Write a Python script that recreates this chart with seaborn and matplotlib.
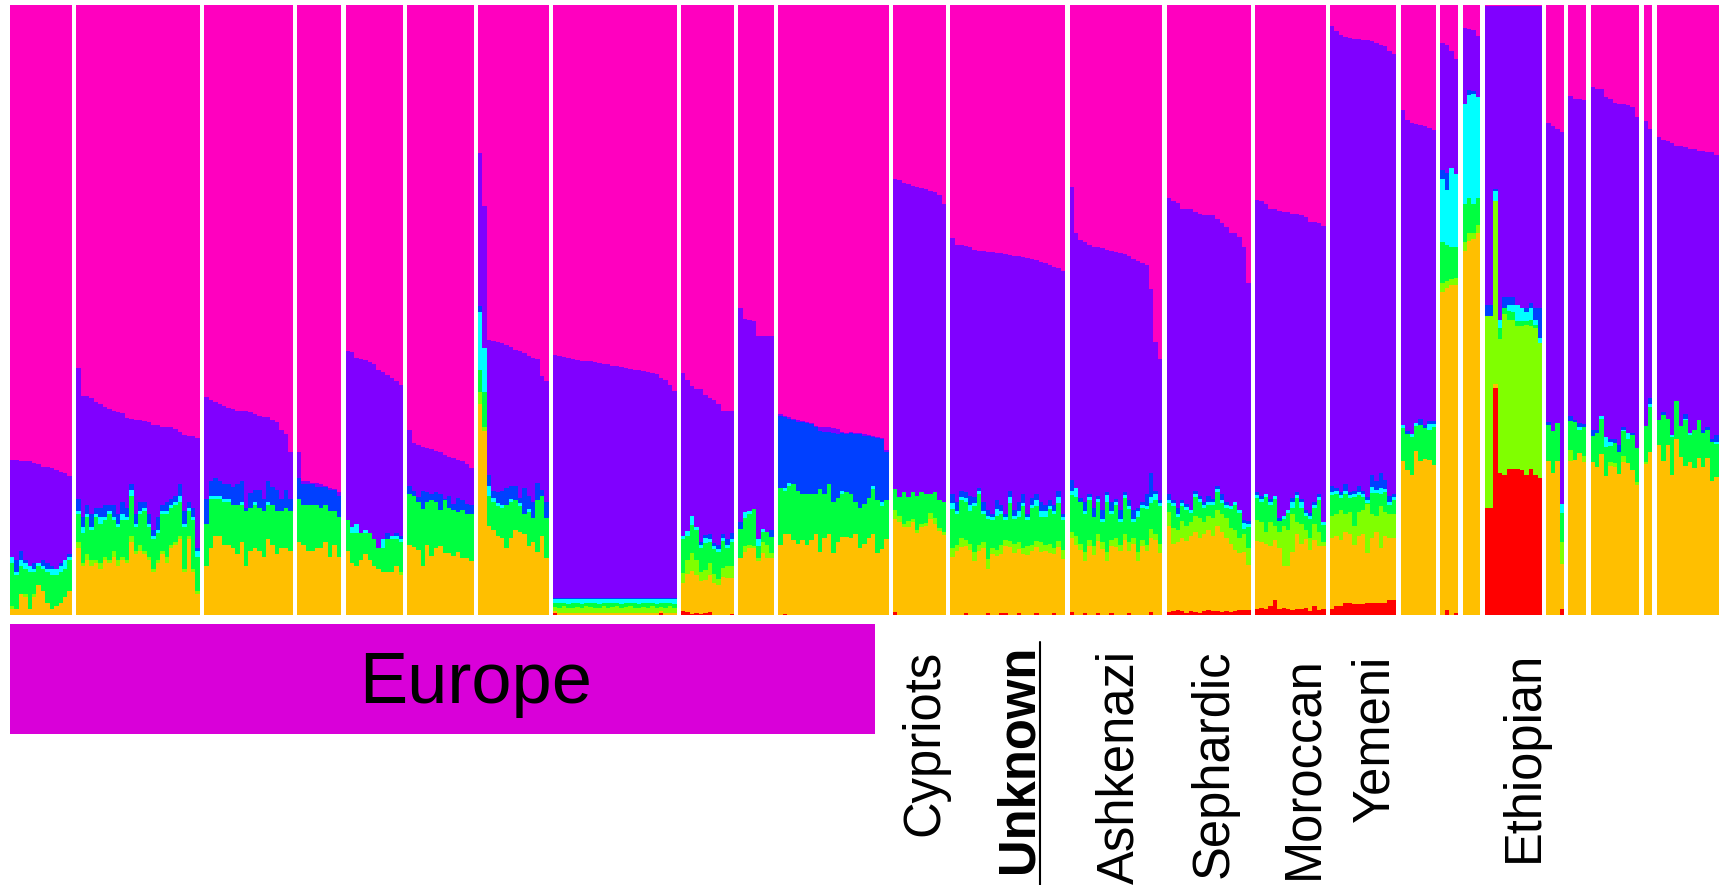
import numpy as np
import pandas as pd
import matplotlib
matplotlib.use("Agg")
import matplotlib.pyplot as plt
import seaborn as sns
from matplotlib.patches import Rectangle
from matplotlib.lines import Line2D

# ---------------------------------------------------------------------------
# Ancestry components (K = 8), listed from top of each bar to bottom
COMPONENTS = ["magenta", "violet", "blue", "cyan", "green", "lime", "orange", "red"]
COLORS = {"magenta": "#FF00BF", "violet": "#8000FF", "blue": "#0040FF", "cyan": "#00FFFF",
          "green": "#00FF40", "lime": "#80FF00", "orange": "#FFBF00", "red": "#FF0000"}

# Population labels shown under the plot
EUROPE_LABEL = "Europe"
POP_LABELS = ["Cypriots", "Unknown", "Ashkenazi", "Sephardic", "Moroccan", "Yemeni", "Ethiopian"]

# Per-individual ancestry proportions (%), one inner list per population block (26 blocks)
MAGENTA = [
    [74.6,74.6,74.7,74.8,74.8,75.0,75.2,75.7,75.8,75.9,76.3,76.5,76.7,77.2],
    [59.5,64.1,64.1,64.5,65.0,65.4,65.9,66.3,66.5,66.7,66.9,67.7,67.9,68.0,68.0,68.2,68.4,68.9,68.9,69.1,69.1,69.2,69.5,70.0,70.5,70.7,70.7,71.0],
    [64.2,64.7,65.1,65.4,65.8,66.1,66.3,66.5,66.5,66.5,66.7,67.1,67.4,67.6,67.6,68.0,68.4,69.6,70.4,73.3],
    [73.3,78.0,78.1,78.3,78.4,78.6,78.8,79.1,79.3,79.8],
    [56.7,56.9,57.8,58.0,58.2,58.5,58.8,59.8,60.2,60.6,61.1,61.6,62.3],
    [69.6,71.8,72.1,72.4,72.6,72.8,73.1,73.3,73.7,74.1,74.3,74.6,74.8,75.2,75.9],
    [24.3,32.9,54.9,55.1,55.3,55.4,55.7,56.1,56.5,56.7,57.0,57.5,57.8,58.0,60.8,61.6],
    [57.3,57.5,57.7,57.9,58.0,58.2,58.3,58.4,58.4,58.5,58.7,58.8,58.9,59.1,59.2,59.3,59.5,59.7,59.8,59.9,60.0,60.1,60.3,60.5,61.1,61.5,62.3,63.2],
    [60.3,61.4,62.4,62.9,63.0,64.0,64.5,64.7,65.4,66.6,66.6,66.6],
    [49.7,51.4,51.6,51.8,54.2,54.3,54.3,54.3],
    [67.1,67.4,67.6,67.9,68.1,68.2,68.4,68.5,69.0,69.1,69.2,69.2,69.3,69.5,70.0,70.2,70.0,70.2,70.2,70.4,70.5,70.7,70.8,71.0,73.0],
    [28.5,28.7,29.1,29.4,29.6,29.8,30.0,30.2,30.5,30.7,31.1,32.7],
    [38.2,39.4,39.4,39.5,39.7,40.1,40.3,40.4,40.5,40.5,40.7,40.7,40.8,41.0,41.1,41.2,41.3,41.4,41.6,41.8,42.1,42.3,42.6,42.9,43.1,43.6],
    [29.8,37.4,38.6,38.9,39.4,39.7,39.7,39.9,40.1,40.4,40.5,40.7,40.9,41.2,41.6,42.0,42.3,42.7,46.5,55.3,58.0],
    [31.6,32.2,32.4,33.4,33.4,33.5,33.9,34.2,34.5,34.5,34.5,35.1,35.8,36.4,37.3,37.4,38.1,39.7,45.5],
    [31.9,32.2,32.6,33.4,33.5,33.7,33.9,34.0,34.2,34.3,34.5,34.8,35.5,35.6,35.8,36.3],
    [3.4,4.3,4.9,5.3,5.4,5.6,5.6,5.7,5.8,5.9,6.2,6.5,6.8,7.6,8.0],
    [17.2,18.9,19.3,19.5,19.6,19.8,20.2,20.5],
    [6.3,6.6,7.6,8.8],
    [3.8,4.0,4.1,5.0],
    [0.2,0.2,0.2,0.2,0.2,0.2,0.2,0.2,0.2,0.2,0.2,0.2,0.2],
    [19.3,19.8,20.4,20.9],
    [14.9,15.4,15.4,15.6],
    [13.5,13.7,13.8,15.1,15.4,16.1,16.3,16.3,16.4,16.8,18.3],
    [19.0,20.5],
    [21.6,22.1,22.3,22.7,23.1,23.1,23.3,23.6,23.6,23.9,23.9,24.1,24.1,24.6],
]
VIOLET = [
    [15.9,16.4,14.8,16.2,17.2,16.5,16.3,15.3,15.7,16.1,16.2,15.0,14.3,12.8],
    [21.5,19.9,17.9,19.0,17.5,17.1,16.1,15.7,15.5,16.8,14.6,14.8,10.6,15.5,13.5,13.3,15.1,17.1,15.1,12.9,12.4,11.8,11.0,8.5,12.5,10.8,11.8,18.0],
    [16.8,13.3,12.4,12.6,12.7,12.4,12.7,12.0,11.5,16.0,13.3,12.4,12.1,13.4,10.4,11.0,11.1,11.4,9.1,7.7],
    [4.2,0.5,0.4,0.2,0.6,0.4,0.2,0.4,0.2,0.7],
    [27.8,28.6,27.2,28.5,27.8,28.0,28.7,29.2,27.3,25.9,25.9,24.9,24.7],
    [9.3,7.8,8.6,7.2,7.3,7.4,6.8,6.8,7.3,6.4,7.5,6.3,6.4,6.6,6.1],
    [25.1,23.3,22.1,24.5,24.6,24.2,23.5,22.8,22.4,24.2,22.2,23.0,23.7,20.3,18.7,19.9],
    [39.9,39.7,39.5,39.3,39.2,39.0,38.9,38.8,38.8,38.7,38.5,38.4,38.3,38.1,38.0,37.9,37.7,37.5,37.4,37.3,37.2,37.1,36.9,36.7,36.1,35.7,34.9,34.0],
    [26.8,24.8,21.4,22.6,25.0,22.9,22.2,23.5,23.2,20.2,20.9,19.9],
    [35.1,31.7,31.3,30.9,33.3,31.6,32.1,31.8],
    [0.2,0.2,0.2,0.2,0.2,0.2,0.2,0.2,0.2,0.8,0.8,0.8,0.8,0.8,0.2,0.2,0.2,0.2,0.2,0.2,0.2,0.2,0.2,0.2,0.2],
    [50.9,52.0,50.8,51.3,50.3,50.7,49.9,50.0,49.6,49.2,50.1,48.7],
    [41.9,42.1,40.2,40.4,40.8,40.6,38.9,41.0,42.3,43.0,40.5,41.3,42.7,38.6,41.7,40.2,38.8,42.1,39.3,38.3,39.3,39.7,38.6,39.1,36.5,39.9],
    [48.0,41.8,42.3,42.5,40.8,42.8,40.8,42.9,39.8,41.1,40.5,42.1,39.0,40.0,41.2,40.5,39.2,37.4,30.2,24.3,23.2],
    [48.6,49.0,50.1,47.8,48.4,49.3,45.7,46.3,47.0,46.0,46.5,43.8,44.4,45.0,44.9,44.1,44.7,44.7,39.1],
    [48.0,48.3,47.6,47.6,47.0,50.4,49.9,48.8,46.7,45.6,46.5,48.0,47.8,45.9,44.4,48.5],
    [75.4,74.9,75.0,73.3,74.5,74.0,73.3,73.9,74.9,71.1,71.8,70.2,71.0,72.9,72.1],
    [51.7,50.9,51.1,49.0,48.2,49.1,48.0,47.7],
    [20.7,21.0,19.1,18.9],
    [12.5,9.9,10.0,10.0],
    [49.0,49.0,30.0,51.5,47.7,47.7,47.7,48.9,49.5,49.4,48.6,49.5,49.5],
    [49.1,50.0,48.1,60.9],
    [52.5,52.7,53.1,53.1],
    [56.1,56.0,53.5,55.7,55.8,55.1,55.9,52.8,53.8,53.4,54.4],
    [50.0,44.3],
    [46.5,44.7,45.6,47.8,41.8,45.9,43.8,46.6,46.0,44.2,45.7,45.1,47.1,45.9],
]
BLUE = [
    [0,2,1.5,0.5,0,1,0,1,1,0.5,0,0.5,0,0.5],
    [2,1.5,1.5,2,1,1.5,2,1,2,1.5,2,1.5,1,1.5,1.5,1,1.5,1,2,1,1.5,1,1,2,2,1,1.5,0.5],
    [4,2.5,3,2.5,2.5,2.5,3,3.5,3.5,0.5,2.5,2,3,2,3.5,3,3.5,2,3,2],
    [3.5,3.5,3.5,3.5,3,3.5,3,3.5,3.5,3.5],
    [0,0,0,0,0,0,0,0,0,1,0,0.5,0.5],
    [1.3,0.9,0.8,3.1,1.5,1.0,1.6,2.7,0.2,2.0,1.0,2.2,1.6,1.7,1.5],
    [1.0,0,1.8,1.3,1.8,2.4,2.8,2.1,2.3,0.8,4.3,2.1,2.6,2.9,1.0,2.6],
    [0.2,0.2,0.2,0.2,0.2,0.2,0.2,0.2,0.2,0.2,0.2,0.2,0.2,0.2,0.2,0.2,0.2,0.2,0.2,0.2,0.2,0.2,0.2,0.2,0.2,0.2,0.2,0.2],
    [0,0,0,0,0.5,0.5,0.8,0.5,0.5,0.5,1.0,1.0],
    [1.1,0,0,0,0,0,0,1.1],
    [11.9,11.5,10.5,10.5,11.3,11.7,11.6,11.4,11.0,9.5,10.2,8.6,11.4,10.6,9.4,9.5,10.0,11.1,12.1,11.2,10.2,7.9,10.2,10.3,8.0],
    [0,0,0,0,0,0,0,0,0,0,0,0],
    [1.5,1.5,1,1,1.5,1,0.5,1.5,1,0.5,1.5,1,0.5,1,1,1.5,1.5,0.5,1,1,1.5,1,1,1,1,0.5],
    [1.8,0,0.5,1.5,0.5,1.5,0.5,1.5,0.5,1.5,0.5,1.5,0.5,1.0,1.5,0.5,0.5,2.0,4.0,0.5,0.5],
    [1.0,0.5,1.0,0.5,0.5,0,0.5,0.5,0.5,1.0,0.5,0.5,1.0,0.5,0,0,0,0.5,0.5],
    [0.5,0.5,0,0.5,0,0.5,0,0,0.5,0.5,0.5,0.5,0.5,0.5,0.5,0],
    [1.0,0.5,0.5,1.0,0.5,0.5,1.0,0.5,0.5,2.0,1.5,2.5,1.5,1.0,0.5],
    [0,0.5,0,0,1.0,0.5,0.5,0.5],
    [1.5,2.7,0,0],
    [0,0.8,0.5,0],
    [1.8,1.8,0.3,0,1.8,1.2,1.2,0,0,0.8,0.9,1.9,4.9],
    [0.5,0,0,0],
    [0.8,0.3,0.7,0.5],
    [1.0,0.5,0,0,0.4,0.6,1.1,0.5,0,0.3,0],
    [0,0.9],
    [0,0.4,0,0,0,0,0.7,0,0,0,0.6,0.5,0.4,1.1],
]
CYAN = [
    [1,0.5,1,1,1,0.5,0.5,0.5,0.5,1,1,1,1.5,0.5],
    [0.5,1,0.5,0.5,0.5,1,0.5,0.5,0.5,0.5,1,0.5,1,0.5,0.5,0.5,0.5,0.5,0.5,0.5,0.5,0.5,0.5,1,0.5,0.5,0.5,1],
    [0,0.5,0.5,0.5,0.5,0.5,0,0,0.5,0,0,0.5,0,0,0.5,0,0,0,0,0],
    [0,0,0,0,0,0,0,0,0,0],
    [0,1,1.5,0,0.5,0,0,0,1.5,0,0.5,0.5,0.5],
    [0,0,0,0,0,0,0,0,0,0,0,0,0,0,0],
    [9.4,7.2,1.7,0.5,0.5,0.5,0,0.5,0,0.5,0,0.5,0,0,0,0],
    [0.6,0.7,0.6,0.8,0.7,0.6,0.8,0.6,0.6,0.7,0.8,0.6,0.7,0.6,0.6,0.8,0.6,0.6,0.7,0.8,0.6,0.7,0.6,0.8,0.6,0.7,0.6,0.8],
    [0.5,0.8,1.5,0.5,0.5,0.8,0.5,0.5,0.5,0.5,0.5,0.5],
    [0,1.0,0.6,0,1.2,0.5,0,0],
    [0,0.6,0.6,0,0,0,0,0,0,0,0,0,0,0,0.6,0,0,0,0,0,0,0.6,0,0.6,0],
    [0,0,0,0,0,0,0,0,0,0,0,0],
    [1,0.5,0.5,0.5,1,0.5,0.5,0.5,0.5,0.5,1,0.5,0.5,1,0.5,1,0.5,0.5,0.5,1,1,1,0.5,0.5,1,0.5],
    [0.7,1.5,0,0.5,0.5,0,0.5,0.5,1.0,0.5,0.5,0.5,0.5,0.5,0.5,1.0,0.5,0.5,1.0,1.0,0.5],
    [0.5,0.5,0.5,0.5,0.5,0.5,0.5,0.5,0.5,0.5,0.5,0.5,0.5,0.5,0.5,0.5,0.5,1.0,0.5],
    [0.5,0.5,0.5,0.5,0.5,0,0.5,0.5,1.0,0.5,1.0,0.5,0.5,0.5,0.5,0.5],
    [0.5,0.5,0.5,0.5,0.5,0.5,0.5,0.5,0.5,1.0,0.5,1.0,0.5,0.5,0.5],
    [0.5,0,0.5,0.5,0,0,1.0,0.5],
    [10.3,9.1,13.0,12.0],
    [16.4,16.9,18.1,16.6],
    [0,0,1.6,1.3,0,1.0,1.3,2.7,2.1,1.4,1.9,0.9,0.8],
    [0,0,0,1.5],
    [0,0,0.5,0],
    [0,0,0.6,1.7,0.7,0,0,0.3,0.9,0,0],
    [0,0.5],
    [0,0,0,0.4,0,0,0.3,0.3,0,0,0,0,0,0.3],
]
GREEN = [
    [7,5.5,4.5,4,6,3.5,3,3.5,5,5.5,5,5,4.5,5],
    [4.5,5,6,5,7,6.5,6,7.5,5,5.5,6,6.5,6.5,4,5,6.5,5,5,4.5,6,7,6,6,5.5,7,4,8,5.5],
    [7,8,6,6,7,7,7,8,6,9,7,7,7,7.5,5.5,6.5,7,6,6.5,6.5],
    [7,6.5,7.5,7.5,7,6.5,6,7.5,5.5,6.5],
    [5,5,5.5,4.5,3.5,4.5,4.5,3.5,4,5.5,5.5,4.5,5],
    [8.3,8.3,7.8,9.2,7.1,9.1,7.5,5.9,8.7,7.4,7.5,6.5,7.9,7.2,7.6],
    [3.6,5.8,4.9,4.7,4.8,4.9,7.0,5.9,4.9,4.2,3.2,5.6,3.9,8.4,6.5,6.5],
    [0.7,0.8,0.5,0.6,0.8,0.7,0.6,0.5,0.7,0.8,0.6,0.5,0.8,0.7,0.5,0.6,0.7,0.5,0.8,0.6,0.7,0.8,0.5,0.6,0.7,0.8,0.5,0.6],
    [5.5,4.0,4.5,5.0,4.0,4.5,3.5,4.0,4.5,4.5,3.0,4.0],
    [4.7,4.6,5.0,6.0,2.0,1.6,2.1,2.6],
    [9.3,7.0,7.9,9.1,8.7,7.6,8.3,7.6,6.6,10.2,7.2,8.2,8.3,7.1,7.0,7.3,7.2,5.3,6.5,6.5,6.5,7.3,8.6,7.1,6.3],
    [3.4,3.1,5.2,3.9,4.3,5.6,5.2,4.7,3.2,4.2,4.5,5.0],
    [6.4,5.0,6.3,6.3,5.3,7.4,8.3,4.6,6.6,4.5,5.6,5.0,3.2,6.3,4.0,4.2,6.9,4.2,6.1,5.8,4.2,4.5,5.6,5.5,6.3,4.8],
    [6.1,6.3,6.9,6.2,6.5,4.7,5.3,3.3,8.2,4.2,5.4,3.7,5.8,5.3,2.6,5.6,5.2,5.9,4.2,5.6,6.1],
    [1.4,3.5,2.1,2.4,2.6,1.5,3.2,2.6,2.3,1.8,2.1,2.9,1.8,1.7,3.0,4.1,4.1,0.8,3.4],
    [3.5,3.3,5.7,2.8,4.4,1.8,1.1,2.8,1.1,3.9,2.6,2.3,3.1,2.6,5.2,2.7],
    [3.5,3.3,1.9,3.4,2.2,4.8,2.7,2.2,0.1,3.5,3.8,2.0,3.3,1.5,2.4],
    [5.3,6.0,6.1,4.1,5.9,5.0,4.9,6.2],
    [6.7,5.8,5.2,5.0],
    [6.1,5.8,4.7,4.5],
    [0,0,0,1.8,1.0,1.6,1.3,0.9,0.9,0.7,1.1,0.5,0],
    [5.8,6.9,6.2,4.7],
    [4.8,6.2,3.8,4.7],
    [4.3,5.5,5.7,4.7,2.6,3.2,3.6,4.0,4.0,5.8,5.5],
    [5.9,7.4],
    [4.0,7.6,4.2,6.1,6.2,5.1,7.5,4.4,6.3,6.1,5.5,4.6,6.4,5.4],
]
LIME = [
    [0.5,0,0,0.5,0,0.5,0,0,0,0,0,0,0,0],
    [1,0.5,1,1,0.5,1,0.5,0.5,1,1,0.5,0.5,1,0.5,1,0.5,0.5,0.5,0.5,0.5,1,0.5,0.5,0.5,0.5,0.5,0.5,0.5],
    [0,0,0,0,0,0,0,0,0,0,0,0,0,0,0,0,0,0,0,0],
    [0,0,0,0,0,0,0,0,0,0],
    [0,0,0,0,0,0,0,0,0,0,0,0,0.5],
    [0,0,0,0,0,0,0,0,0,0,0,0,0,0,0],
    [2.0,0.6,0,0,0,0,0,0,0,0,0,0,0,0,0,0],
    [0.6,0.8,1.2,0.9,0.8,1,0.9,1.2,1,0.8,0.9,1.2,0.8,1,1.2,0.9,1,1.2,0.8,0.9,1,0.8,1.2,0.9,0.6,0.8,1.2,0.9],
    [1.7,2.2,3.0,2.5,1.5,1.5,2.0,1.5,1.0,1.5,2.0,2.0],
    [0,0.9,0.5,0.3,0.5,1.9,2.1,0.8],
    [0,0,0,0,0,0,0,0,0,0,0,0,0,0,0,0,0,0,0,0,0,0,0,0,0],
    [1.5,1.0,0.5,1.0,0.5,0.5,0.5,0.5,1.0,1.0,0.5,0.5],
    [1.5,1.0,1.5,1.0,1.0,1.5,1.0,1.0,1.5,1.0,1.0,1.5,1.0,1.0,1.5,1.0,1.0,1.5,1.0,1.0,1.5,1.0,1.5,1.0,1.0,1.5],
    [1.0,1.5,1.0,1.5,1.0,1.5,1.0,1.0,1.5,1.0,1.5,1.0,1.0,1.5,1.0,1.5,1.0,1.0,1.5,1.0,1.5],
    [2.3,2.6,1.9,2.8,2.5,2.2,2.6,3.3,1.9,2.3,2.9,2.6,2.9,3.3,2.6,3.3,2.4,2.9,2.8],
    [3.5,3.3,1.9,3.9,2.3,2.6,6.5,5.8,6.1,1.9,3.2,1.4,1.9,2.6,2.3,0.7],
    [3.6,3.5,4.9,2.9,3.6,3.1,3.9,3.9,8.1,3.9,2.6,6.8,3.9,3.9,3.9],
    [0,0,0,0,0,0,0,0],
    [1.5,1.2,1.0,1.2],
    [1.5,1.3,1.0,1.3],
    [31.5,31.5,30.0,21.9,26.3,24.3,24.3,23.3,23.6,24.5,23.3,24.0,22.2],
    [0,0,0,3.6],
    [1.8,0,0,1.0],
    [0,0,0,0,0.7,0.7,0,1.0,0,0,0.5],
    [0.4,0],
    [0,0,0,0,0,0,0,0,0,0,0,0,0,0],
]
ORANGE = [
    [1,1,3.5,3,1,3,5,4,2,1,1.5,2,3,4],
    [11,8,9,8,8.5,7.5,9,8.5,9.5,8,9,8.5,12,10,10.5,10,9,7,8.5,10,8.5,11,11.5,12.5,7,12.5,7,3.5],
    [8,11,13,13,11.5,11.5,11,10,12,8,10.5,11,10.5,9.5,12.5,11.5,10,11,11,10.5],
    [12,11.5,10.5,10.5,11,11,12,9.5,11.5,9.5],
    [10.5,8.5,8,9,10,9,8,7.5,7,7,7,8,6.5],
    [11.5,11.2,10.7,8.1,11.5,9.7,11.0,11.3,10.1,10.1,9.7,10.4,9.3,9.3,8.9],
    [34.6,30.2,14.6,13.9,13.0,12.6,11.0,12.6,13.9,13.6,13.3,11.3,12.0,10.4,13.0,9.4],
    [0.3,0.3,0.3,0.3,0.3,0.3,0.3,0.3,0.3,0.3,0.3,0.3,0.3,0.3,0.3,0.3,0.3,0.3,0.3,0.3,0.3,0.3,0.3,0.3,0.3,0.3,0.3,0.3],
    [4.6,6.3,7.0,6.1,5.3,5.4,6.0,5.3,4.9,6.2,6.0,5.8],
    [9.4,10.4,11.0,11.0,8.8,10.1,9.4,9.4],
    [11.5,13.1,13.2,12.3,11.7,12.3,11.5,12.3,13.2,10.4,12.6,13.2,10.2,12.0,12.8,12.8,12.6,13.2,11.0,11.7,12.6,13.3,10.2,10.8,12.5],
    [15.2,15.2,14.4,14.4,15.3,13.4,14.4,14.6,15.7,14.9,13.8,13.1],
    [9.5,10.5,11.1,10.9,10.7,8.9,10.5,11.0,7.2,10.0,9.7,9.6,10.9,11.1,10.2,10.5,10.0,9.8,10.5,10.7,10.4,10.5,10.2,9.6,11.1,9.2],
    [12.1,11.5,10.7,8.6,11.3,9.8,11.9,10.9,8.9,11.0,11.1,10.5,12.3,10.2,11.6,8.9,11.3,10.5,12.1,12.3,10.2],
    [14.1,11.1,11.2,12.0,11.8,12.4,13.1,12.3,12.7,13.1,12.3,14.0,13.1,12.0,11.2,10.0,9.4,9.6,7.4],
    [11.1,10.7,10.7,9.8,9.9,10.0,6.9,7.1,9.6,12.3,10.7,11.3,10.1,10.8,10.5,10.3],
    [11.6,11.5,10.8,11.6,11.3,9.7,11.2,11.5,8.1,10.6,11.6,9.0,11.0,10.1,10.1],
    [25.3,23.7,23.0,26.9,25.3,25.6,25.4,24.6],
    [53.0,52.8,54.1,53.8],
    [59.7,61.3,61.6,62.6],
    [0,0,0.7,0,0,0,0,0,0,0,0,0,0],
    [25.3,23.3,25.3,7.4],
    [25.2,25.4,26.5,25.1],
    [25.1,24.3,26.4,22.8,24.4,24.3,23.1,25.1,24.9,23.7,21.3],
    [24.7,26.9],
    [27.9,25.2,27.9,23.0,28.9,25.9,24.4,25.1,24.1,25.8,24.3,25.7,22.0,22.7],
]
RED = [
    [0,0,0,0,0,0,0,0,0,0,0,0,0,0],
    [0,0,0,0,0,0,0,0,0,0,0,0,0,0,0,0,0,0,0,0,0,0,0,0,0,0,0,0],
    [0,0,0,0,0,0,0,0,0,0,0,0,0,0,0,0,0,0,0,0],
    [0,0,0,0,0,0,0,0,0,0],
    [0,0,0,0,0,0,0,0,0,0,0,0,0],
    [0,0,0,0,0,0,0,0,0,0,0,0,0,0,0],
    [0,0,0,0,0,0,0,0,0,0,0,0,0,0,0,0],
    [0.4,0,0,0,0,0,0,0,0,0,0,0,0,0,0,0,0,0,0,0,0,0,0,0,0.4,0,0,0],
    [0.6,0.5,0.2,0.4,0.2,0.4,0.5,0,0,0,0,0.2],
    [0,0,0,0,0,0,0,0],
    [0,0.2,0,0,0,0,0,0,0,0,0,0,0,0,0,0,0,0,0,0,0,0,0,0,0],
    [0.5,0,0,0,0,0,0,0,0,0,0,0],
    [0,0,0,0.4,0,0,0,0,0.4,0,0,0.4,0.4,0,0,0.4,0,0,0,0.4,0,0,0,0.4,0,0],
    [0.5,0,0,0.3,0,0,0.3,0,0,0.3,0,0,0,0.3,0,0,0,0,0.5,0,0],
    [0.5,0.6,0.8,0.6,0.3,0.6,0.5,0.3,0.6,0.8,0.7,0.6,0.5,0.6,0.5,0.6,0.8,0.8,0.8],
    [1.0,1.2,1.0,1.5,2.4,1.0,1.2,1.0,0.8,1.0,1.0,1.2,0.6,1.5,0.8,1.0],
    [1.0,1.5,1.5,2.0,2.0,1.8,1.8,1.8,2.0,2.0,2.0,2.0,2.0,2.5,2.5],
    [0,0,0,0,0,0,0,0],
    [0,0.8,0,0.3],
    [0,0,0,0],
    [17.5,17.5,37.2,23.3,23.0,24.0,24.0,24.0,23.7,23.0,24.0,23.0,22.4],
    [0,0,0,1.0],
    [0,0,0,0],
    [0,0,0,0,0,0,0,0,0,0,0],
    [0,0],
    [0,0,0,0,0,0,0,0,0,0,0,0,0,0],
]

# ---------------------------------------------------------------------------
DATA = dict(zip(COMPONENTS, [MAGENTA, VIOLET, BLUE, CYAN, GREEN, LIME, ORANGE, RED]))
n_groups = len(MAGENTA)
for c in COMPONENTS:
    for g in range(n_groups):
        if len(DATA[c][g]) != len(MAGENTA[g]):
            raise ValueError(f"length mismatch: {c} block {g+1}")

rows = []
slot = 0
for g in range(n_groups):
    for j in range(len(MAGENTA[g])):
        vals = [DATA[c][g][j] for c in COMPONENTS]
        tot = float(sum(vals))
        for c, v in zip(COMPONENTS, vals):
            rows.append({"slot": slot, "comp": c, "q": v / tot})
        slot += 1
    slot += 1  # one empty slot separates population blocks
df = pd.DataFrame(rows)
n_slots = slot - 1

# ---------------------------------------------------------------------------
W, H = 1723, 885
sns.set_theme(style="white")
plt.rcParams["font.family"] = ["Liberation Sans", "DejaVu Sans"]

fig = plt.figure(figsize=(W / 100, H / 100), dpi=100)
fig.patch.set_facecolor("white")

def fx(px):
    return px / W

def fy(py):
    return 1 - py / H

ax = fig.add_axes([fx(10), fy(615), fx(W - 10), (615 - 5) / H])
sns.histplot(data=df, x="slot", weights="q", hue="comp", hue_order=COMPONENTS,
             palette=COLORS, multiple="stack", discrete=True, shrink=1,
             element="bars", fill=True, alpha=1, linewidth=0, edgecolor="none",
             antialiased=False, legend=False, ax=ax)
ax.set_xlim(-0.5, n_slots + 0.5)
ax.set_ylim(0, 1)
ax.axis("off")

# Europe box
fig.patches.append(Rectangle((fx(10), fy(733.7)), fx(875 - 10), (733.7 - 624) / H,
                             transform=fig.transFigure, facecolor="#D900D9",
                             edgecolor="none", zorder=1))
fig.text(fx(359), fy(703), EUROPE_LABEL, fontsize=52, ha="left", va="baseline",
         color="black", zorder=2)

# Rotated population labels: (baseline x, top y) in pixels
anchors = [(938, 650), (1032, 645), (1133, 650), (1228, 650), (1317, 656), (1388, 655), (1538, 651)]
for lab, (bx, ty) in zip(POP_LABELS, anchors):
    fig.text(fx(bx), fy(ty), lab, rotation=90, rotation_mode="anchor",
             ha="right", va="baseline", fontsize=36.5,
             fontweight="bold" if lab == "Unknown" else "normal", color="black")

# underline of the highlighted label
fig.lines.append(Line2D([fx(1039.5), fx(1039.5)], [fy(642), fy(885)],
                        transform=fig.transFigure, color="black", linewidth=1.5))

fig.savefig("out.png", dpi=100, facecolor="white")
